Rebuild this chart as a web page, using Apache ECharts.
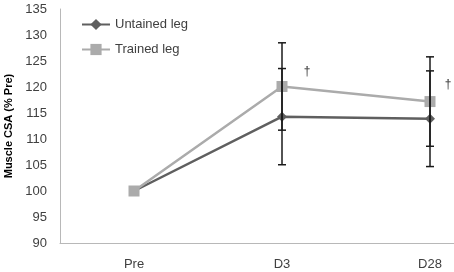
<!DOCTYPE html>
<html><head><meta charset="utf-8">
<script src="https://cdn.jsdelivr.net/npm/echarts@6/dist/echarts.min.js"></script>
<style>html,body{margin:0;padding:0;background:#fff}#c{width:454px;height:272px}</style>
</head><body><div id="c"></div>
<script>
var categories = ['Pre', 'D3', 'D28'];
var untrained = [100, 114.3, 113.9];
var untrainedSD = [0, 9.25, 9.2];
var trained = [100, 120.1, 117.2];
var trainedSD = [0, 8.4, 8.6];
var daggers = ['', '†', '†'];
var yTicks = {min: 90, max: 135, interval: 5};

var chart = echarts.init(document.getElementById('c'));
var font = 'Liberation Sans';
var txt = '#404040';

function errData(vals, sds) {
  return vals.map(function (v, i) { return [i, v - sds[i], v + sds[i]]; }).filter(function (d, i) { return sds[i] > 0; });
}
function errRender(color) {
  return function (params, api) {
    var x = api.coord([api.value(0), api.value(1)]);
    var y2 = api.coord([api.value(0), api.value(2)]);
    var w = 4;
    var st = {stroke: color, lineWidth: 1.5};
    return {type: 'group', children: [
      {type: 'line', shape: {x1: x[0], y1: x[1], x2: x[0], y2: y2[1]}, style: st},
      {type: 'line', shape: {x1: x[0] - w, y1: x[1], x2: x[0] + w, y2: x[1]}, style: st},
      {type: 'line', shape: {x1: x[0] - w, y1: y2[1], x2: x[0] + w, y2: y2[1]}, style: st}
    ]};
  };
}

var daggerOffsets = [[0, 0], [25, -15], [18, -17]];

chart.setOption({
  animation: false,
  backgroundColor: '#fff',
  textStyle: {fontFamily: font},
  grid: {left: 60, top: 9, height: 234, width: 444, containLabel: false, outerBoundsMode: 'none'},
  legend: {
    orient: 'vertical', left: 76, top: 13, itemWidth: 28, itemHeight: 14, itemGap: 12,
    textStyle: {fontFamily: font, fontSize: 13, color: txt},
    data: ['Untained leg', 'Trained leg']
  },
  xAxis: {
    type: 'category', data: categories, boundaryGap: true,
    axisLine: {lineStyle: {color: '#b8b8b8', width: 1}},
    axisTick: {show: false},
    axisLabel: {fontFamily: font, fontSize: 13, color: txt, margin: 15}
  },
  yAxis: {
    type: 'value', min: yTicks.min, max: yTicks.max, interval: yTicks.interval,
    name: 'Muscle CSA (% Pre)', nameLocation: 'middle', nameGap: 46,
    nameTextStyle: {fontFamily: font, fontSize: 11, fontWeight: 'bold', color: '#000'},
    axisLine: {show: true, lineStyle: {color: '#b8b8b8', width: 1}},
    axisTick: {show: false},
    splitLine: {show: false},
    axisLabel: {fontFamily: font, fontSize: 13, color: txt, margin: 13}
  },
  series: [
    {
      name: 'Untained leg', type: 'line', data: untrained,
      symbol: 'diamond', symbolSize: 10, z: 3,
      lineStyle: {color: '#5f5f5f', width: 2.5},
      itemStyle: {color: '#5f5f5f'}
    },
    {
      name: 'Trained leg', type: 'line', z: 4,
      data: trained.map(function (v, i) {
        return {value: v, label: {show: daggers[i] !== '', formatter: daggers[i], position: 'inside', offset: daggerOffsets[i], fontSize: 12, color: '#333', fontFamily: font}};
      }),
      symbol: 'rect', symbolSize: 11,
      lineStyle: {color: '#ababab', width: 2.5},
      itemStyle: {color: '#ababab'}
    },
    {
      type: 'custom', name: 'errU', z: 10, renderItem: errRender('#1a1a1a'),
      data: errData(untrained, untrainedSD), encode: {x: 0, y: [1, 2]}, silent: true
    },
    {
      type: 'custom', name: 'errT', z: 10, renderItem: errRender('#1a1a1a'),
      data: errData(trained, trainedSD), encode: {x: 0, y: [1, 2]}, silent: true
    }
  ]
});
</script>
</body></html>
